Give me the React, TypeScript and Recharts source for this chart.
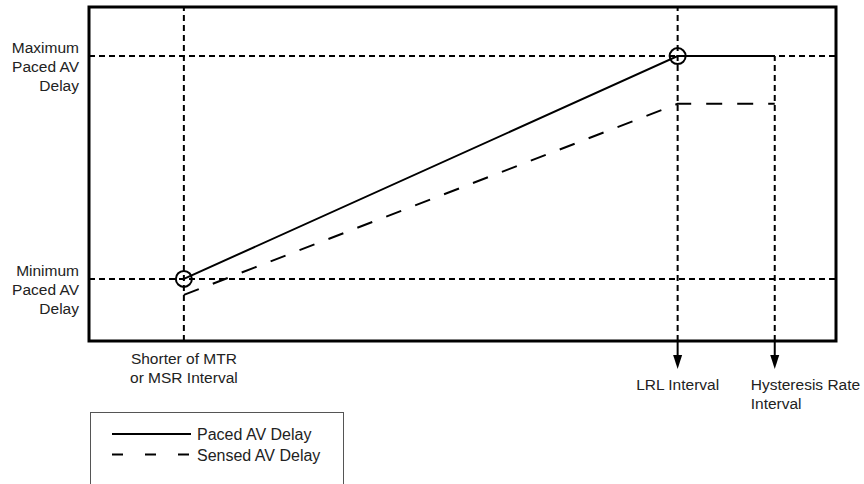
import React from "react";
import {
  LineChart,
  Line,
  XAxis,
  YAxis,
  ReferenceLine,
  ReferenceDot,
  ReferenceArea,
} from "recharts";

// x positions of the three intervals (0..1000 across the plot)
const intervalX = [127, 788, 918];
const intervalLabels = [
  ["Shorter of MTR", "or MSR Interval"],
  ["LRL Interval"],
  ["Hysteresis Rate", "Interval"],
];

// y positions of min / max paced AV delay (0..100)
const delayY = [18.6, 85.3];
const delayLabels = [
  ["Minimum", "Paced AV", "Delay"],
  ["Maximum", "Paced AV", "Delay"],
];

const pacedDelay = [18.6, 85.3, 85.3];
const sensedDelay = [13.8, 71, 71];

const data = intervalX.map((x, i) => ({
  x,
  paced: pacedDelay[i],
  sensed: sensedDelay[i],
}));

const font = "'Liberation Sans', Arial, sans-serif";

const YLabel = (lines: string[]) => (props: any) => {
  const vb = props.viewBox || {};
  const y = vb.y ?? 0;
  return (
    <g>
      {lines.map((t, i) => (
        <text
          key={t}
          x={79}
          y={y - 3 + i * 19}
          textAnchor="end"
          fontFamily={font}
          fontSize={15.5}
          fill="#222"
        >
          {t}
        </text>
      ))}
    </g>
  );
};

const XLabel = (lines: string[], arrow: boolean, align: "center" | "left") => (props: any) => {
  const vb = props.viewBox || {};
  const x = vb.x ?? 0;
  const bottom = (vb.y ?? 0) + (vb.height ?? 0);
  const top = arrow ? bottom + 49 : bottom + 23;
  return (
    <g>
      {arrow && (
        <g>
          <line x1={x} y1={bottom} x2={x} y2={bottom + 16} stroke="#000" strokeWidth={2} />
          <polygon
            points={`${x - 4.5},${bottom + 14} ${x + 4.5},${bottom + 14} ${x},${bottom + 28}`}
            fill="#000"
          />
        </g>
      )}
      {lines.map((t, i) => (
        <text
          key={t}
          x={align === "center" ? x : x - 24}
          y={top + i * 19}
          textAnchor={align === "center" ? "middle" : "start"}
          fontFamily={font}
          fontSize={15.5}
          fill="#222"
        >
          {t}
        </text>
      ))}
    </g>
  );
};

const gridDash = "6 4";

export default function App() {
  return (
    <div style={{ position: "absolute", left: 0, top: 0, width: 864, height: 484, background: "#fff", overflow: "hidden" }}>
      <LineChart
        width={864}
        height={484}
        data={data}
        margin={{ top: 7, right: 28, bottom: 143, left: 89 }}
      >
        <XAxis dataKey="x" type="number" domain={[0, 1000]} hide />
        <YAxis type="number" domain={[0, 100]} hide />

        <ReferenceLine
          x={intervalX[0]}
          stroke="#000"
          strokeWidth={2}
          strokeDasharray={gridDash}
          label={{ content: XLabel(intervalLabels[0], false, "center") }}
        />
        <ReferenceLine
          x={intervalX[1]}
          stroke="#000"
          strokeWidth={2}
          strokeDasharray={gridDash}
          label={{ content: XLabel(intervalLabels[1], true, "center") }}
        />
        <ReferenceLine
          segment={[
            { x: intervalX[2], y: 0 },
            { x: intervalX[2], y: pacedDelay[2] },
          ]}
          stroke="#000"
          strokeWidth={2}
          strokeDasharray={gridDash}
          label={{ content: XLabel(intervalLabels[2], true, "left") }}
        />
        <ReferenceLine
          y={delayY[0]}
          stroke="#000"
          strokeWidth={2}
          strokeDasharray={gridDash}
          label={{ content: YLabel(delayLabels[0]) }}
        />
        <ReferenceLine
          y={delayY[1]}
          stroke="#000"
          strokeWidth={2}
          strokeDasharray={gridDash}
          label={{ content: YLabel(delayLabels[1]) }}
        />

        <ReferenceArea
          x1={0}
          x2={1000}
          y1={0}
          y2={100}
          fill="none"
          fillOpacity={0}
          stroke="#000"
          strokeWidth={3}
        />

        <Line
          type="linear"
          dataKey="paced"
          stroke="#000"
          strokeWidth={2}
          dot={false}
          isAnimationActive={false}
        />
        <Line
          type="linear"
          dataKey="sensed"
          stroke="#000"
          strokeWidth={2}
          strokeDasharray="16 15"
          dot={false}
          isAnimationActive={false}
        />

        <ReferenceDot x={intervalX[0]} y={pacedDelay[0]} r={8} fill="none" stroke="#000" strokeWidth={2} />
        <ReferenceDot x={intervalX[1]} y={pacedDelay[1]} r={8} fill="none" stroke="#000" strokeWidth={2} />
      </LineChart>

      {/* legend */}
      <div
        style={{
          position: "absolute",
          left: 90,
          top: 412,
          width: 254,
          height: 80,
          border: "1px solid #555",
          boxSizing: "border-box",
        }}
      >
        <svg width={252} height={78}>
          <line x1={21} y1={21} x2={100} y2={21} stroke="#000" strokeWidth={2} />
          <text x={106} y={27} fontFamily={font} fontSize={16} fill="#222">
            Paced AV Delay
          </text>
          <line x1={21} y1={41.5} x2={100} y2={41.5} stroke="#000" strokeWidth={2} strokeDasharray="11 22" />
          <text x={106} y={48} fontFamily={font} fontSize={16} fill="#222">
            Sensed AV Delay
          </text>
        </svg>
      </div>
    </div>
  );
}
